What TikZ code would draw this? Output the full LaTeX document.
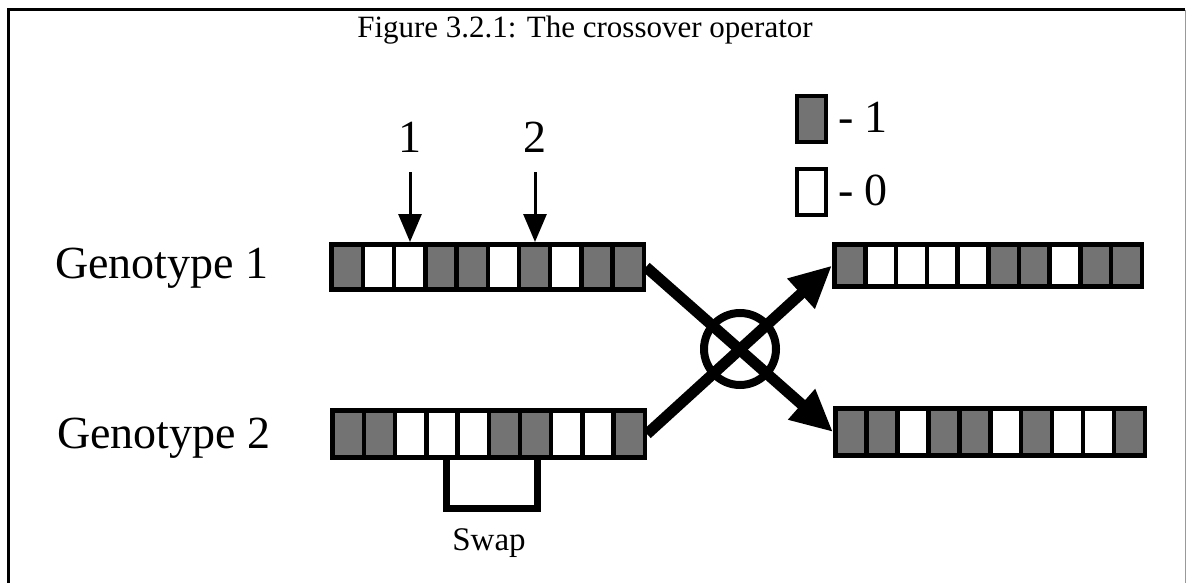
\documentclass[tikz,border=0pt]{standalone}
\usepackage{fontspec}
\setmainfont{Liberation Serif}
\usetikzlibrary{arrows.meta}
\colorlet{dotgray}{black!55}
\newcommand{\genebar}[6]{%
  \node[barbox, minimum width=#3pt, minimum height=#4pt, anchor=north west] (#5) at (#1,#2) {};
  \pgfmathsetmacro{\cw}{(#3-5)/10}
  \foreach \b [count=\i from 0] in {#6} {
    \pgfmathsetmacro{\cx}{#1+5+\i*\cw}
    \ifnum\b=1 \def\cf{dotgray}\else\def\cf{white}\fi
    \fill[\cf] (\cx,#2+5) rectangle ++(\cw-4.5,#4-10);
  }%
}
\begin{document}
\begin{tikzpicture}[x=1pt,y=-1pt,
  barbox/.style={fill=black, draw=none, inner sep=0pt, outer sep=0pt, rectangle},
  txt/.style={inner sep=0pt, outer sep=0pt},
  big/.style={txt, font=\fontsize{46}{50}\selectfont},
  legbox/.style={draw=black, line width=4pt, minimum width=29pt, minimum height=46pt, inner sep=0pt},
  cutptr/.style={line width=3pt, -{Triangle[length=28pt,width=23pt]}},
  xarrow/.style={line width=11pt, -{Triangle[length=42pt,width=38pt]}},
  bracket/.style={line width=7pt}]
\useasboundingbox (0,0) rectangle (1186,583);
\fill[white] (0,0) rectangle (1186,583);
% frame
\draw[line width=3pt] (8,583) -- (8,10) -- (1185,10);
\draw[black!40, line width=1pt] (1185,10) -- (1185,583);
% title
\node[txt, font=\fontsize{31}{34}\selectfont, anchor=base] (title) at (585,38) {Figure 3.2.1: The crossover operator};
% labels
\node[big, anchor=base west] (lab1) at (55,278) {Genotype 1};
\node[big, anchor=base west] (lab2) at (57,448) {Genotype 2};
% bars
\genebar{329}{242}{317}{50}{g1}{1,0,0,1,1,0,1,0,1,1}
\genebar{330}{408}{317}{52}{g2}{1,1,0,0,0,1,1,0,0,1}
\genebar{832}{242}{312}{47}{c1}{1,0,0,0,0,1,1,0,1,1}
\genebar{833}{406}{314}{52}{c2}{1,1,0,1,1,0,1,0,0,1}
% crossover points
\node[big, anchor=base] (n1) at (410,153) {1};
\node[big, anchor=base] (n2) at (535,153) {2};
\coordinate (p1) at (410,242);
\coordinate (p2) at (535,242);
\draw[cutptr] ([yshift=-19pt]n1.south) -- (p1);
\draw[cutptr] ([yshift=-19pt]n2.south) -- (p2);
% legend
\node[legbox, fill=dotgray] (k1) at (811,119.5) {};
\node[legbox, fill=white] (k0) at (811.5,191.5) {};
\node[big, anchor=base west] (k1t) at (838,133) {- 1};
\node[big, anchor=base west] (k0t) at (838,205) {- 0};
% crossover
\node[circle, draw, line width=8pt, minimum size=72pt, inner sep=0pt] (cross) at (740,349) {};
\draw[xarrow] (g1.east) -- (c2.west);
\draw[xarrow] (g2.east) -- (c1.west);
% swap bracket
\coordinate (s1) at (446,460);
\coordinate (s2) at (537,460);
\draw[bracket] (s1) -- ++(0,48) -| (s2);
\node[txt, font=\fontsize{33}{36}\selectfont, anchor=base] (swap) at (489,550) {Swap};
\end{tikzpicture}
\end{document}
